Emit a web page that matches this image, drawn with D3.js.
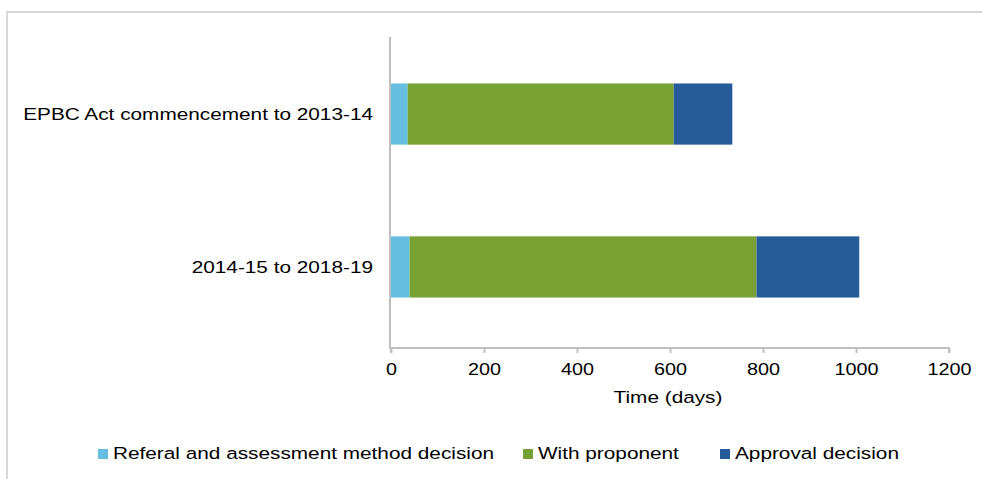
<!DOCTYPE html>
<html>
<head>
<meta charset="utf-8">
<script src="https://cdn.jsdelivr.net/npm/d3@7"></script>
<style>
  html, body { margin: 0; padding: 0; background: #fff; }
  svg { display: block; font-family: "Liberation Sans", Arial, sans-serif; }
</style>
</head>
<body>
<svg id="chart" width="982" height="479"></svg>
<script>
// Average time per stage of the approval process, in days
const categories = ["EPBC Act commencement to 2013-14", "2014-15 to 2018-19"];
const seriesNames = ["Referal and assessment method decision", "With proponent", "Approval decision"];
const referral = [36, 40];
const withProponent = [572, 746];
const approval = [126, 221];
const xTicks = [0, 200, 400, 600, 800, 1000, 1200];
const colors = ["#65bde0", "#77a132", "#265b9a"];

const FONT = 16.5;     // text size
const WIDE = 1.26;     // horizontal stretch of the lettering
const WIDE_NUM = 1.2;  // horizontal stretch of the tick numbers

const svg = d3.select("#chart");

// frame around the chart area
svg.append("rect")
  .attr("x", 7).attr("y", 12)
  .attr("width", 990).attr("height", 480)
  .attr("fill", "none")
  .attr("stroke", "#d9d9d9")
  .attr("stroke-width", 2);

const x = d3.scaleLinear().domain([0, 1200]).range([391, 949]);
const y = d3.scaleBand().domain(categories).range([35, 346])
  .paddingInner(0.6).paddingOuter(0.317);

const rows = categories.map((c, i) => ({
  cat: c,
  vals: [referral[i], withProponent[i], approval[i]]
}));
const stacked = d3.stack().keys([0, 1, 2]).value((d, k) => d.vals[k])(rows);

stacked.forEach((layer, k) => {
  svg.append("g").selectAll("rect")
    .data(layer)
    .join("rect")
    .attr("x", d => x(d[0]))
    .attr("width", d => x(d[1]) - x(d[0]))
    .attr("y", d => y(d.data.cat))
    .attr("height", y.bandwidth())
    .attr("fill", colors[k]);
});

// x axis
const xAxis = svg.append("g")
  .attr("transform", "translate(0,348)")
  .call(d3.axisBottom(x).tickValues(xTicks).tickSize(5).tickPadding(10).tickFormat(d3.format("d")));
xAxis.select(".domain").attr("stroke", "#bfbfbf").attr("stroke-width", 2)
  .attr("d", "M391,5V0H949V5");
xAxis.selectAll(".tick line").attr("stroke", "#bfbfbf").attr("stroke-width", 2);
xAxis.selectAll(".tick text").attr("fill", "#000").attr("font-size", FONT)
  .attr("font-family", "Liberation Sans, Arial, sans-serif")
  .attr("transform", `scale(${WIDE_NUM},1)`);

// y axis line
svg.append("line")
  .attr("x1", 390).attr("x2", 390)
  .attr("y1", 37).attr("y2", 349)
  .attr("stroke", "#bfbfbf").attr("stroke-width", 2);

// category labels
svg.append("g").selectAll("text")
  .data(categories)
  .join("text")
  .attr("transform", d => `translate(373,${y(d) + y.bandwidth() / 2 + 6}) scale(${WIDE},1)`)
  .attr("text-anchor", "end")
  .attr("font-size", FONT)
  .attr("fill", "#000")
  .text(d => d);

// axis title
svg.append("text")
  .attr("transform", `translate(668,403) scale(${WIDE},1)`)
  .attr("text-anchor", "middle")
  .attr("font-size", FONT)
  .attr("fill", "#000")
  .text("Time (days)");

// legend
const legendX = [98, 523, 720];
const legend = svg.append("g").selectAll("g")
  .data(seriesNames)
  .join("g")
  .attr("transform", (d, i) => `translate(${legendX[i]},459)`);
legend.append("rect")
  .attr("x", 0).attr("y", -10)
  .attr("width", 10).attr("height", 10)
  .attr("fill", (d, i) => colors[i]);
legend.append("text")
  .attr("transform", `translate(15,0) scale(${WIDE},1)`)
  .attr("font-size", FONT)
  .attr("fill", "#000")
  .text(d => d);
</script>
</body>
</html>
